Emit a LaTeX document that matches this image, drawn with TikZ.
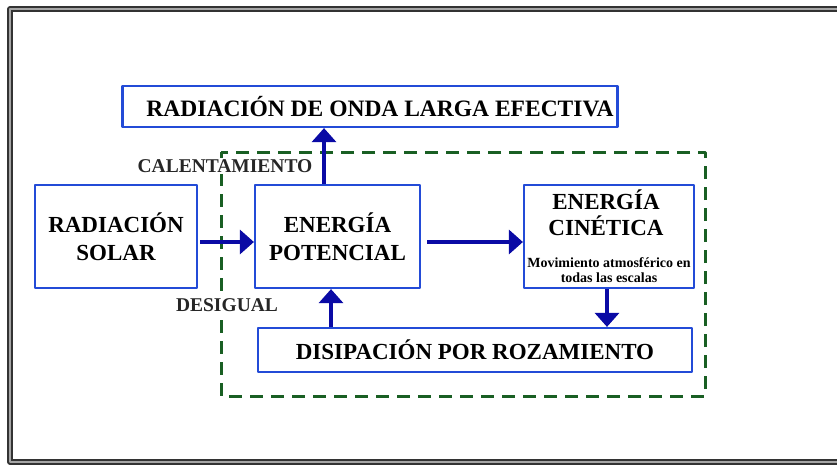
\documentclass[tikz,border=0pt]{standalone}
\usepackage{fontspec}
\setmainfont{Liberation Serif}
\usetikzlibrary{arrows.meta}
\definecolor{azulcaja}{RGB}{35,75,215}
\definecolor{azulflecha}{RGB}{10,10,165}
\definecolor{verdeborde}{RGB}{25,95,35}

\begin{document}
\begin{tikzpicture}[x=1pt, y=-1pt, line join=round,
    >={Triangle[length=14pt, width=24pt]},
    caja/.style={draw=azulcaja, line width=2.2pt, fill=white, inner sep=0pt, align=center,
        font=\bfseries\fontsize{23}{28}\selectfont},
    flecha/.style={->, draw=azulflecha, fill=azulflecha, line width=3.2pt},
    etiqueta/.style={fill=white, inner sep=1pt, font=\bfseries\fontsize{19.5}{22}\selectfont, text=black!85}]
\useasboundingbox (0,0) rectangle (837,466);
% marco exterior
\draw[black!80, line width=1.3pt, double=black!35, double distance=2.6pt] (10,9) rectangle (850,462);
% recuadro verde
\draw[verdeborde, line width=3pt, dash pattern=on 13pt off 8pt] (221,152) rectangle (705,396);
\node[etiqueta] (calent) at (225,166) {CALENTAMIENTO};
\node[etiqueta] (desig) at (227,305) {DESIGUAL};
% cajas
\node[caja, minimum width=495pt, minimum height=41pt, font=\bfseries\fontsize{23.5}{28}\selectfont] (onda) at (370,106.5) {\hspace*{20pt}RADIACIÓN DE ONDA LARGA EFECTIVA};
\node[caja, minimum width=162pt, minimum height=103pt] (solar) at (116,236.5) {RADIACIÓN\\SOLAR};
\node[caja, minimum width=165pt, minimum height=103pt] (potencial) at (337.5,236.5) {ENERGÍA\\POTENCIAL};
\node[caja, minimum width=170pt, minimum height=103pt] (cinetica) at (609,236.5) {};
\node[font=\bfseries\fontsize{23}{26}\selectfont, align=center, inner sep=0pt] (cinetit) at (606,213) {ENERGÍA\\CINÉTICA};
\node[font=\bfseries\fontsize{14}{15}\selectfont, align=center, inner sep=0pt] (cinetxt) at (609,270.5) {Movimiento atmosférico en\\todas las escalas};
\node[caja, minimum width=434pt, minimum height=44pt] (disip) at (475,350) {DISIPACIÓN POR ROZAMIENTO};
% flechas
\coordinate (s1) at (200,242);
\coordinate (p1) at (427,242);
\draw[flecha] (s1) -- (potencial.west |- s1);
\draw[flecha] (p1) -- (cinetica.west |- p1);
\draw[flecha] (potencial.north -| 324,0) -- (onda.south -| 324,0);
\draw[flecha] (disip.north -| 331,0) -- (potencial.south -| 331,0);
\draw[flecha] (cinetica.south -| 607,0) -- (disip.north -| 607,0);
\end{tikzpicture}
\end{document}
